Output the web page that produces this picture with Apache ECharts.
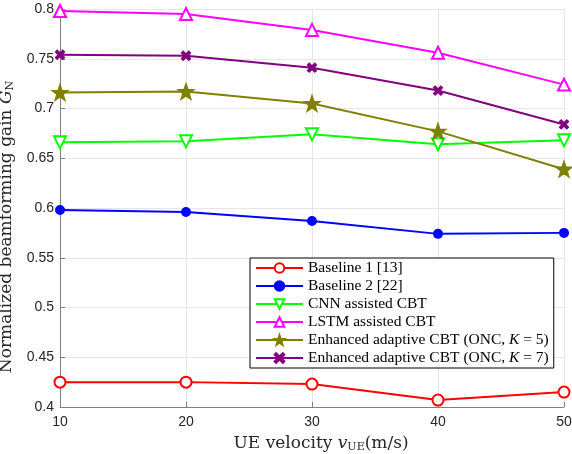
<!DOCTYPE html>
<html>
<head>
<meta charset="utf-8">
<script src="https://cdn.jsdelivr.net/npm/echarts@6/dist/echarts.min.js"></script>
<style>html,body{margin:0;padding:0;background:#fff;}#c{width:572px;height:454px;}</style>
</head>
<body>
<div id="c"></div>
<script>
var velocities = [10, 20, 30, 40, 50];
var baseline1 = [0.425, 0.425, 0.423, 0.407, 0.415];
var baseline2 = [0.598, 0.596, 0.587, 0.574, 0.575];
var cnnCBT = [0.666, 0.667, 0.674, 0.664, 0.668];
var lstmCBT = [0.798, 0.795, 0.779, 0.756, 0.724];
var oncK5 = [0.716, 0.717, 0.705, 0.677, 0.639];
var oncK7 = [0.754, 0.753, 0.741, 0.718, 0.684];
var yTicks = [0.4, 0.45, 0.5, 0.55, 0.6, 0.65, 0.7, 0.75, 0.8];
var xTicks = [10, 20, 30, 40, 50];

var starPath = 'path://M0,-10 L2.35,-3.24 L9.51,-3.09 L3.8,1.24 L5.88,8.09 L0,4 L-5.88,8.09 L-3.8,1.24 L-9.51,-3.09 L-2.35,-3.24 Z';
var xPath = 'path://M-5,-3.5 L-3.5,-5 L0,-1.5 L3.5,-5 L5,-3.5 L1.5,0 L5,3.5 L3.5,5 L0,1.5 L-3.5,5 L-5,3.5 L-1.5,0 Z';

function pairs(arr){ return velocities.map(function(v,i){ return [v, arr[i]]; }); }

var serif = '"Liberation Serif", "DejaVu Serif", serif';
var wideSerif = '"DejaVu Serif", "Liberation Serif", serif';
var sans = '"Liberation Sans", Arial, sans-serif';

var defs = [
  {name:'Baseline 1 [13]', data:baseline1, color:'#ff0000', symbol:'emptyCircle', size:11},
  {name:'Baseline 2 [22]', data:baseline2, color:'#0000ff', symbol:'circle', size:8},
  {name:'CNN assisted CBT', data:cnnCBT, color:'#00ff00', symbol:'emptyTriangle', size:12, rotate:180},
  {name:'LSTM assisted CBT', data:lstmCBT, color:'#ff00ff', symbol:'emptyTriangle', size:12},
  {name:'Enhanced adaptive CBT (ONC, K = 5)', data:oncK5, color:'#808000', symbol:starPath, size:14},
  {name:'Enhanced adaptive CBT (ONC, K = 7)', data:oncK7, color:'#800080', symbol:xPath, size:8}
];

var series = defs.map(function(d){
  return {
    name: d.name, type:'line', data: pairs(d.data),
    symbol: d.symbol, symbolSize: d.size, symbolRotate: d.rotate || 0,
    showAllSymbol: true,
    lineStyle:{color:d.color, width:2},
    itemStyle:{color:d.color, borderColor:d.color, borderWidth:2},
    emphasis:{disabled:true},
    animation:false
  };
});

var nameRich = {
  a:{fontFamily:wideSerif, fontSize:17, color:'#262626'},
  i:{fontFamily:wideSerif, fontSize:17, fontStyle:'italic', color:'#262626'},
  s:{fontFamily:wideSerif, fontSize:11, color:'#262626', padding:[7,0,0,0]}
};

var chart = echarts.init(document.getElementById('c'));
chart.setOption({
  backgroundColor:'#fff',
  animation:false,
  grid:{left:60, right:8, top:9, bottom:47, containLabel:false, outerBoundsMode:'none'},
  legend:{
    orient:'vertical', left:250, top:258,
    itemWidth:47, itemHeight:12, itemGap:2,
    backgroundColor:'#fff', borderColor:'#000', borderWidth:1, borderRadius:0,
    padding:[2,5,2,5],
    textStyle:{fontFamily:serif, fontSize:15.5, lineHeight:15, color:'#000',
      rich:{i:{fontFamily:serif, fontSize:15.5, lineHeight:15, fontStyle:'italic', color:'#000'}}},
    formatter:function(n){
      if(n.indexOf('K = 5')>=0) return 'Enhanced adaptive CBT (ONC, {i|K} = 5)';
      if(n.indexOf('K = 7')>=0) return 'Enhanced adaptive CBT (ONC, {i|K} = 7)';
      return n;
    },
    data: defs.map(function(d){return d.name;})
  },
  xAxis:{
    type:'value', min:10, max:50, interval:10,
    name:'{a|UE velocity }{i|v}{s|UE}{a|(m/s)}',
    nameLocation:'middle', nameGap:28,
    nameTextStyle:{padding:[0,0,0,18], rich:nameRich},
    axisLine:{show:true, onZero:false, lineStyle:{color:'#808080', width:1}},
    axisTick:{show:true, inside:true, length:5, lineStyle:{color:'#808080'}},
    axisLabel:{fontFamily:sans, fontSize:14, color:'#262626', margin:8},
    splitLine:{show:true, lineStyle:{color:'#e6e6e6', width:1}}
  },
  yAxis:{
    type:'value', min:0.4, max:0.8, interval:0.05,
    name:'{a|Normalized beamforming gain }{i|G}{s|N}',
    nameLocation:'middle', nameGap:42,
    nameTextStyle:{padding:[0,38,0,0], rich:nameRich},
    axisLine:{show:true, onZero:false, lineStyle:{color:'#808080', width:1}},
    axisTick:{show:true, inside:true, length:5, lineStyle:{color:'#808080'}},
    axisLabel:{fontFamily:sans, fontSize:14, color:'#262626', margin:6,
      formatter:function(v){ var r=Math.round(v*100)/100; return String(r); }},
    splitLine:{show:true, lineStyle:{color:'#e6e6e6', width:1}}
  },
  series: series
});
</script>
</body>
</html>
